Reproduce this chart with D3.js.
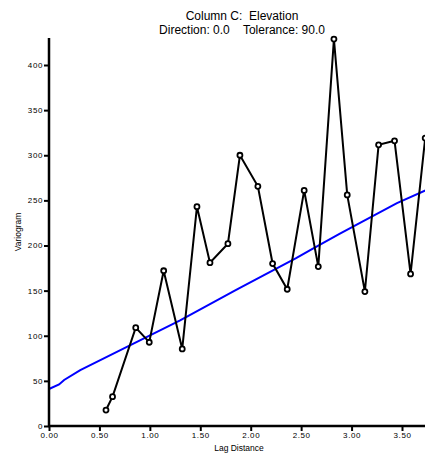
<!DOCTYPE html>
<html>
<head>
<meta charset="utf-8">
<script src="https://cdn.jsdelivr.net/npm/d3@7"></script>
<style>
  body { margin: 0; background: #fff; }
  svg { display: block; font-family: "Liberation Sans", Arial, sans-serif; }
</style>
</head>
<body>
<svg id="chart" width="425" height="453"></svg>
<script>
// Experimental variogram (lag distance, variogram value)
const lagDistance = [0.565, 0.63, 0.86, 0.994, 1.137, 1.321, 1.467, 1.596, 1.774, 1.893, 2.071, 2.217, 2.362, 2.53, 2.67, 2.825, 2.957, 3.132, 3.268, 3.426, 3.585, 3.73];
const variogram   = [17.7, 32.5, 109, 92.8, 172, 85.4, 243, 181, 202, 300, 265.6, 180, 151.5, 261, 176.6, 428.7, 256, 149, 311.5, 316, 168.5, 319];
// Model curve
const modelLag = [0, 0.1, 0.15, 0.31, 1.3, 1.86, 2.45, 2.59, 2.88, 3.45, 3.75];
const modelVal = [41, 46, 51, 62, 117, 151, 186, 195, 213, 247, 262];
const xTicks = [0, 0.5, 1.0, 1.5, 2.0, 2.5, 3.0, 3.5];
const yTicks = [0, 50, 100, 150, 200, 250, 300, 350, 400];
const titleLines = ["Column C:  Elevation", "Direction: 0.0    Tolerance: 90.0"];

const svg = d3.select("#chart");
const x = d3.scaleLinear().domain([0, 3.5]).range([49, 402]);
const y = d3.scaleLinear().domain([0, 400]).range([426, 65]);

// Title
svg.selectAll("text.title").data(titleLines).join("text")
  .attr("class", "title")
  .attr("x", 242).attr("y", (d, i) => 20 + i * 14)
  .attr("text-anchor", "middle")
  .attr("font-size", 12)
  .style("white-space", "pre")
  .attr("xml:space", "preserve")
  .text(d => d);

// Model line
const modelData = modelLag.map((d, i) => [d, modelVal[i]]);
svg.append("path")
  .datum(modelData)
  .attr("fill", "none")
  .attr("stroke", "#0000ff")
  .attr("stroke-width", 2)
  .attr("d", d3.line().x(d => x(d[0])).y(d => y(d[1])));

// Experimental line
const expData = lagDistance.map((d, i) => [d, variogram[i]]);
svg.append("path")
  .datum(expData)
  .attr("fill", "none")
  .attr("stroke", "#000")
  .attr("stroke-width", 2)
  .attr("d", d3.line().x(d => x(d[0])).y(d => y(d[1])));

svg.selectAll("circle.pt").data(expData).join("circle")
  .attr("class", "pt")
  .attr("cx", d => x(d[0])).attr("cy", d => y(d[1]))
  .attr("r", 2.5)
  .attr("fill", "#fff")
  .attr("stroke", "#000")
  .attr("stroke-width", 1.8);

// Axes
const xAxis = d3.axisBottom(x).tickValues(xTicks).tickFormat(d3.format(".2f")).tickSize(5).tickSizeOuter(0);
const gx = svg.append("g").attr("transform", "translate(0,426)").call(xAxis);
gx.select(".domain").remove();
gx.selectAll(".tick line").attr("stroke", "#000").attr("stroke-width", 2);
gx.selectAll(".tick text").attr("font-size", 8).attr("letter-spacing", 0.6)
  .attr("font-family", "Liberation Sans, Arial, sans-serif").attr("fill", "#000")
  .attr("dy", "0.71em").attr("y", 6);
svg.append("line").attr("x1", 48).attr("x2", 425).attr("y1", 426).attr("y2", 426)
  .attr("stroke", "#000").attr("stroke-width", 2.5);

const yAxis = d3.axisLeft(y).tickValues(yTicks).tickFormat(d3.format("d")).tickSize(5).tickSizeOuter(0);
const gy = svg.append("g").attr("transform", "translate(49,0)").call(yAxis);
gy.select(".domain").remove();
gy.selectAll(".tick line").attr("stroke", "#000").attr("stroke-width", 2);
gy.selectAll(".tick text").attr("font-size", 8).attr("letter-spacing", 0.6)
  .attr("font-family", "Liberation Sans, Arial, sans-serif").attr("fill", "#000")
  .attr("x", -6).attr("dy", "0.3em");
svg.append("line").attr("x1", 49).attr("x2", 49).attr("y1", 38).attr("y2", 427)
  .attr("stroke", "#000").attr("stroke-width", 2.5);

// Axis labels
svg.append("text").attr("x", 239).attr("y", 451).attr("text-anchor", "middle")
  .attr("font-size", 8.5).text("Lag Distance");
svg.append("text").attr("transform", "translate(21,232) rotate(-90)").attr("text-anchor", "middle")
  .attr("font-size", 8.5).text("Variogram");
</script>
</body>
</html>
